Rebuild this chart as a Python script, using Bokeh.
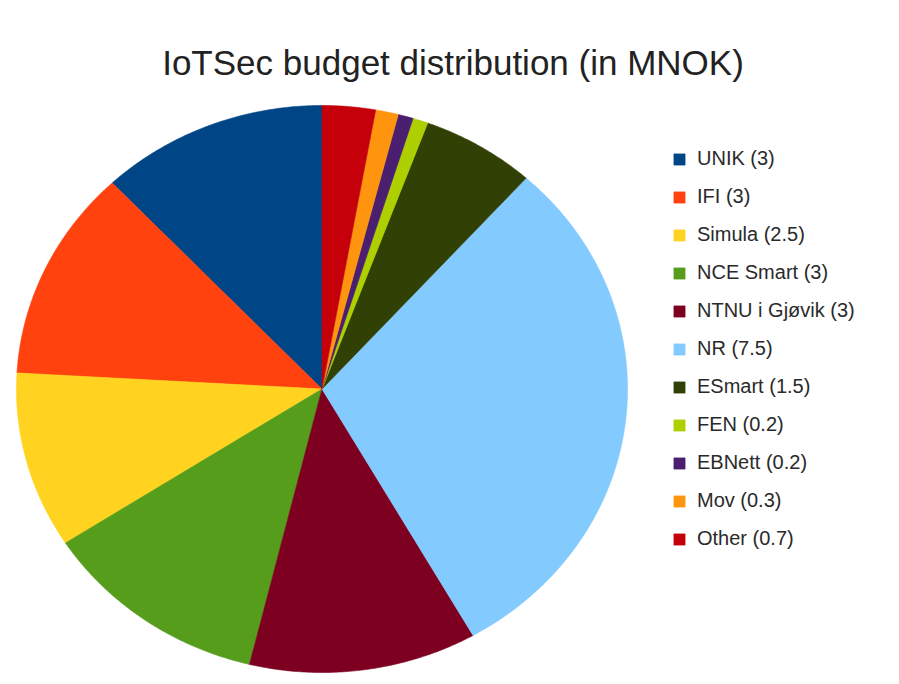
import numpy as np
from bokeh.plotting import figure
from bokeh.models import Range1d, ColumnDataSource, Legend, LegendItem, Label
from bokeh.embed import file_html
from bokeh.resources import INLINE

# ---- data ----
names = ["UNIK", "IFI", "Simula", "NCE Smart", "NTNU i Gjøvik", "NR",
         "ESmart", "FEN", "EBNett", "Mov", "Other"]
budgets = [3, 3, 2.5, 3, 3, 7.5, 1.5, 0.2, 0.2, 0.3, 0.7]
colors = ["#004586", "#ff420e", "#ffd320", "#579d1c", "#7e0021", "#83caff",
          "#314004", "#aecf00", "#4b1f6f", "#ff950e", "#c5000b"]
title_text = "IoTSec budget distribution (in MNOK)"
labels = [f"{n} ({v:g})" for n, v in zip(names, budgets)]

# ---- layout (pixel-like coordinates, y downwards) ----
W, H = 899, 684
CX, CY, RX, RY = 321.5, 388.5, 305.5, 283.5

total = float(sum(budgets))
cum = np.concatenate([[0.0], np.cumsum(budgets)]) / total
xs, ys = [], []
for a0, a1 in zip(cum[:-1], cum[1:]):
    n = max(int((a1 - a0) * 720), 4)
    t = np.linspace(a0, a1, n) * 2 * np.pi
    px = CX - RX * np.sin(t)
    py = CY - RY * np.cos(t)
    xs.append([CX] + px.tolist())
    ys.append([CY] + py.tolist())

p = figure(width=W, height=H, x_range=Range1d(0, W), y_range=Range1d(H, 0),
           toolbar_location=None, output_backend="svg", min_border=0)
p.axis.visible = False
p.grid.visible = False
p.outline_line_color = None
p.background_fill_color = "white"
p.border_fill_color = "white"

src = ColumnDataSource(dict(xs=xs, ys=ys, color=colors, label=labels))
r = p.patches("xs", "ys", source=src, fill_color="color", line_color="color",
              line_width=0.6)

items = [LegendItem(label=labels[i], renderers=[r], index=i) for i in range(len(labels))]
legend = Legend(items=items, location=(672, 134),
                label_text_font_size="20px", label_text_font="Liberation Sans",
                label_text_color="#2a2a2a", glyph_width=14, glyph_height=14,
                label_standoff=11, label_height=23, spacing=15, padding=0, margin=0,
                border_line_color=None, background_fill_alpha=0)
p.add_layout(legend)

p.add_layout(Label(x=452.5, y=62, text=title_text, text_align="center",
                   text_baseline="alphabetic", text_font="Liberation Sans",
                   text_font_size="35px", text_color="#222222"))

open("out.html", "w").write(file_html(p, INLINE))
